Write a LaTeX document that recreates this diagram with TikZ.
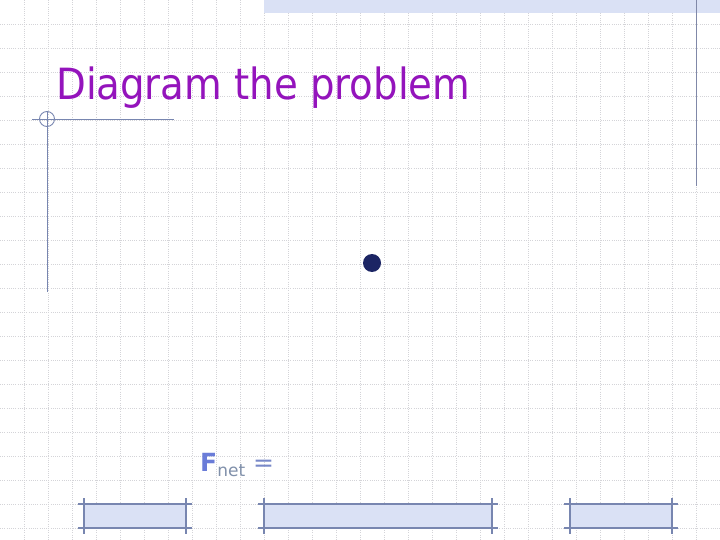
\documentclass[tikz,border=0pt]{standalone}
\usepackage{fontspec}
\setmainfont{DejaVu Sans}
\newfontfamily\titlefont{DejaVu Sans Condensed}
\usepackage{tikz}
\usetikzlibrary{positioning}
\definecolor{gridgray}{RGB}{212,212,216}
\definecolor{barblue}{RGB}{218,225,245}
\definecolor{rulegray}{RGB}{120,134,176}
\definecolor{sidegray}{RGB}{128,136,168}
\definecolor{titlepurple}{RGB}{148,20,188}
\definecolor{massnavy}{RGB}{28,37,100}
\definecolor{forceblue}{RGB}{106,124,216}
\definecolor{netgray}{RGB}{128,144,170}
\definecolor{equalgray}{RGB}{120,136,200}
\tikzset{gridline/.style={draw=gridgray, line width=0.7pt, dash pattern=on 1pt off 1.2pt},
    rule/.style={draw=rulegray, line width=1.2pt},
    barbox/.style={fill=barblue}}

\begin{document}
\begin{tikzpicture}[x=1pt, y=-1pt]
        \useasboundingbox (0,0) rectangle (720,540);
        \fill[white] (0,0) rectangle (720,540);
        \foreach \x in {24,48,...,696} \draw[gridline] (\x,0) -- (\x,540);
        \foreach \y in {24,48,...,528} \draw[gridline] (0,\y) -- (720,\y);

        % top band and right rule
        \fill[barblue] (264,0) rectangle (720,13);
        \draw[draw=sidegray, line width=1.4pt] (696.7,0) -- (696.7,186);

        % corner mark
        \draw[rule, line width=0.9pt] (32,119) -- (174,119);
        \draw[rule, line width=0.9pt] (47,111) -- (47,292);
        \draw[rule, line width=0.9pt] (47,119) circle (7.5);

        \node[anchor=base west, inner sep=0, text=titlepurple,
            font=\titlefont\fontsize{43}{50}\selectfont] (title) at (56,100) {Diagram the problem};

        \node[circle, fill=massnavy, minimum size=18pt, inner sep=0] (mass) at (372,263) {};

        \node[anchor=base west, inner sep=0, font=\fontsize{25}{28}\selectfont] (fnet) at (200,471)
            {\textcolor{forceblue}{\textbf{F}}\textcolor{netgray}{\raisebox{-5pt}{\fontsize{17}{18}\selectfont net}}
            \textcolor{equalgray}{=}};

        % bottom bars
        \fill[barbox] (84,504) rectangle (186,528);
        \fill[barbox] (264,504) rectangle (492,528);
        \fill[barbox] (570,504) rectangle (672,528);
        \draw[rule] (78,504) -- (192,504) (78,528) -- (192,528)
            (84,498) -- (84,534) (186,498) -- (186,534);
        \draw[rule] (258,504) -- (498,504) (258,528) -- (498,528)
            (264,498) -- (264,534) (492,498) -- (492,534);
        \draw[rule] (564,504) -- (678,504) (564,528) -- (678,528)
            (570,498) -- (570,534) (672,498) -- (672,534);
    \end{tikzpicture}
\end{document}
